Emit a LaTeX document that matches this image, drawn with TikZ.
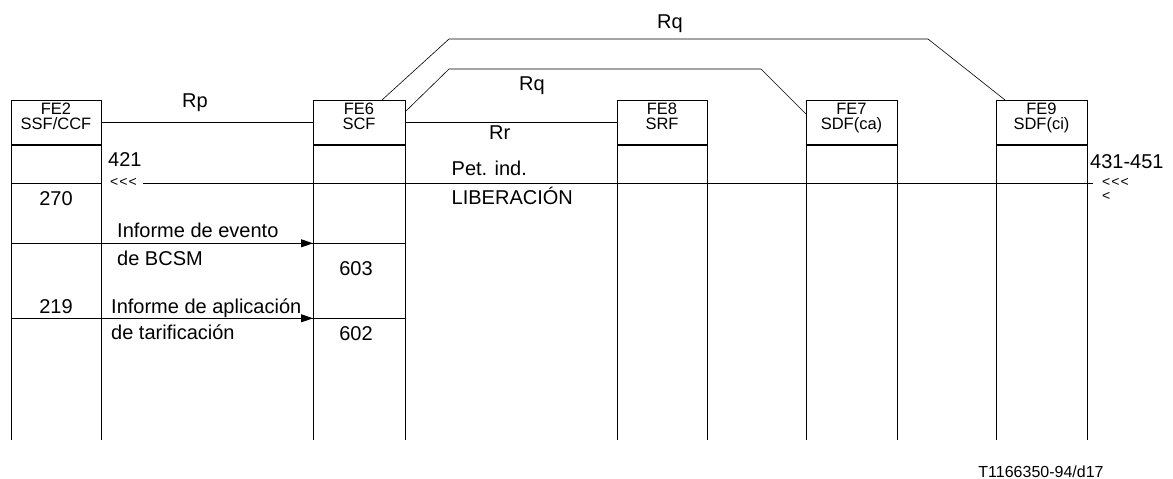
\documentclass[tikz,border=0pt]{standalone}
\usepackage{fontspec}
\setmainfont{Liberation Sans}
\usetikzlibrary{arrows.meta}
\newcommand{\lts}{<\kern1pt<\kern1pt<}
\begin{document}
\begin{tikzpicture}[x=1pt,y=-1pt,
  hbox/.style={draw,line width=0.9pt,anchor=north west,minimum height=45pt,inner sep=0pt,outer sep=0pt},
  htxt/.style={font=\fontsize{16.5}{16.5}\selectfont,anchor=base,inner sep=0pt},
  lbl/.style={font=\fontsize{20}{20}\selectfont,anchor=base west,inner sep=0pt},
  clbl/.style={font=\fontsize{20}{20}\selectfont,anchor=base,inner sep=0pt},
  small/.style={font=\fontsize{14}{14}\selectfont,anchor=west,inner sep=0pt},
  foot/.style={font=\fontsize{16}{16}\selectfont,anchor=base,inner sep=0pt},
  col/.style={line width=0.9pt},
  sep/.style={line width=1.8pt},
  msg/.style={line width=0.8pt},
  iface/.style={line width=0.8pt},
  diag/.style={line width=0.6pt},
  tip/.style={-{Triangle[length=12pt,width=8pt]}}
]
\useasboundingbox (0,0) rectangle (1173,479);
% header boxes
\node[hbox,minimum width=90pt] (fe2) at (11,100) {};
\node[hbox,minimum width=92pt] (fe6) at (313,100) {};
\node[hbox,minimum width=90pt] (fe8) at (617,100) {};
\node[hbox,minimum width=91pt] (fe7) at (806,100) {};
\node[hbox,minimum width=91pt] (fe9) at (996,100) {};
% header texts
\node[htxt] (fe2a) at (56,114) {FE2};
\node[htxt] (fe2b) at (56,129) {SSF/CCF};
\node[htxt] (fe6a) at (359,114) {FE6};
\node[htxt] (fe6b) at (359,129) {SCF};
\node[htxt] (fe8a) at (662,114) {FE8};
\node[htxt] (fe8b) at (662,129) {SRF};
\node[htxt] (fe7a) at (851.5,114) {FE7};
\node[htxt] (fe7b) at (851.5,129) {SDF(ca)};
\node[htxt] (fe9a) at (1041.5,114) {FE9};
\node[htxt] (fe9b) at (1041.5,129) {SDF(ci)};
% thick separators and column lines
\coordinate (bot) at (0,440);
\foreach \f in {fe2,fe6,fe8,fe7,fe9}{
  \draw[sep] (\f.south west) -- (\f.south east);
  \draw[col] (\f.south west) -- (\f.south west |- bot);
  \draw[col] (\f.south east) -- (\f.south east |- bot);
}
% interfaces
\coordinate (rpy) at (0,122);
\draw[iface] (fe2.east |- rpy) -- (fe6.west |- rpy);
\draw[iface] (fe6.east |- rpy) -- (fe8.west |- rpy);
\coordinate (qa0) at (405,112);
\coordinate (qa1) at (449,69);
\coordinate (qa2) at (761,69);
\coordinate (qa3) at (806,114);
\draw[diag] (qa0) -- (qa1) -- (qa2) -- (qa3);
\coordinate (qb0) at (382,100);
\coordinate (qb1) at (449,39);
\coordinate (qb2) at (928,39);
\coordinate (qb3) at (1005,100);
\draw[diag] (qb0) -- (qb1) -- (qb2) -- (qb3);
\node[lbl] (rp) at (182,107) {Rp};
\node[lbl] (rr) at (489,139) {Rr};
\node[lbl] (rq1) at (519,90.5) {Rq};
\node[lbl] (rq2) at (657,28) {Rq};
% indication line
\coordinate (iy) at (0,183);
\coordinate (il) at (143,183);
\coordinate (ir) at (1093,183);
\draw[msg] (fe2.west |- iy) -- (fe2.east |- iy);
\draw[msg] (il) -- (ir);
\node[small] (ltl) at (110,182.5) {\lts};
\node[small] (ltr) at (1102,182.5) {\lts};
\node[small] (ltr2) at (1102,196.5) {<};
\node[lbl] (n421) at (108,166) {421};
\node[lbl] (n431) at (1090,168) {431-451};
\node[clbl] (n270) at (56,205) {270};
\node[lbl] (pet) at (451.5,175) {Pet. ind.};
\node[lbl] (lib) at (451.5,204) {LIBERACIÓN};
% messages
\coordinate (ya) at (0,243.3);
\coordinate (yb) at (0,318.3);
\draw[msg] (fe2.west |- ya) -- (fe6.east |- ya);
\draw[msg,tip] (fe2.east |- ya) -- (fe6.west |- ya);
\draw[msg] (fe2.west |- yb) -- (fe6.east |- yb);
\draw[msg,tip] (fe2.east |- yb) -- (fe6.west |- yb);
\node[lbl] (m1a) at (117,237) {Informe de evento};
\node[lbl] (m1b) at (117,265) {de BCSM};
\node[clbl] (n603) at (356,275) {603};
\node[clbl] (n219) at (56,313) {219};
\node[lbl] (m2a) at (111,313) {Informe de aplicación};
\node[lbl] (m2b) at (111,339) {de tarificación};
\node[clbl] (n602) at (356,340) {602};
\node[foot] (ref) at (1041,477) {T1166350-94/d17};
\end{tikzpicture}
\end{document}
